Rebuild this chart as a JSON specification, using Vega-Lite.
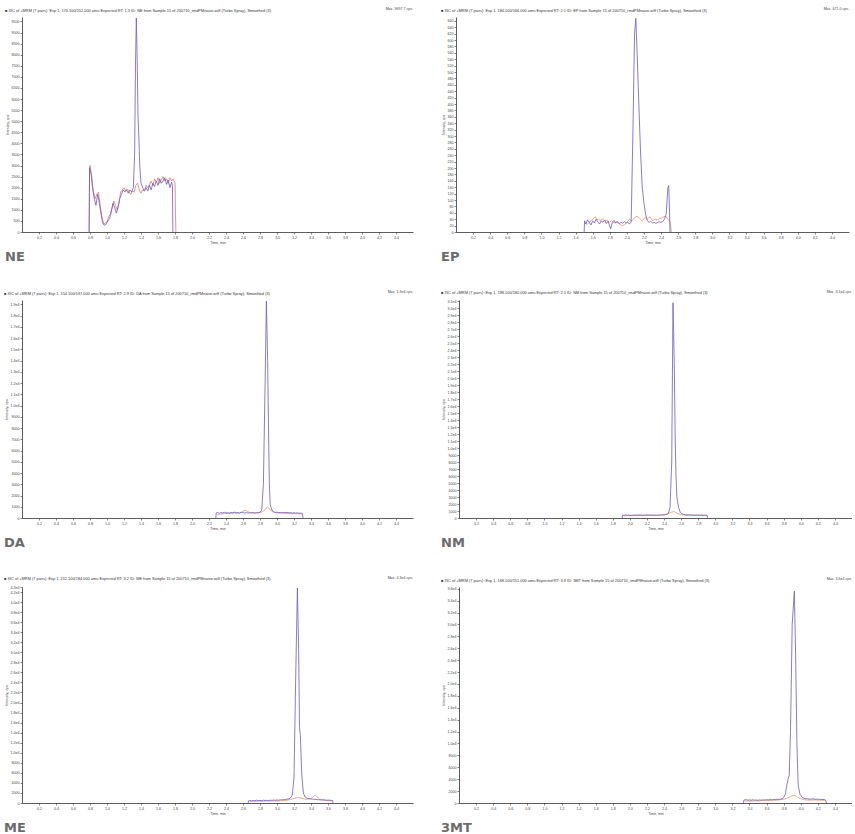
{
  "$schema": "https://vega.github.io/schema/vega-lite/v6.json",
  "padding": {"left": 4, "top": 7, "right": 0, "bottom": 0},
  "autosize": {"type": "pad"},
  "background": "white",
  "config": {
    "font": "Liberation Sans",
    "view": {"stroke": null},
    "axis": {"labelFontSize": 3.6, "titleFontSize": 3.6, "tickSize": 2, "labelPadding": 1, "titlePadding": 2, "grid": false, "domainColor": "#333", "tickColor": "#333", "labelColor": "#444", "titleColor": "#444", "domainWidth": 0.8, "tickWidth": 0.6, "titleFontWeight": "normal", "labelOverlap": false, "labelFlush": false, "labelSeparation": 0},
    "title": {"font": "Liberation Sans"},
    "line": {"strokeWidth": 0.8, "clip": true},
    "concat": {"spacing": 28}
  },
  "datasets": {
    "ne_a": [{"t":0.79,"v":0},{"t":0.795,"v":2900},{"t":0.81,"v":2700},{"t":0.83,"v":2000},{"t":0.85,"v":1500},{"t":0.87,"v":1200},{"t":0.89,"v":1700},{"t":0.91,"v":1300},{"t":0.93,"v":800},{"t":0.95,"v":400},{"t":0.97,"v":300},{"t":0.99,"v":350},{"t":1.01,"v":500},{"t":1.03,"v":600},{"t":1.05,"v":900},{"t":1.07,"v":1300},{"t":1.09,"v":1100},{"t":1.11,"v":850},{"t":1.13,"v":1100},{"t":1.15,"v":1500},{"t":1.17,"v":1700},{"t":1.19,"v":1900},{"t":1.21,"v":1800},{"t":1.23,"v":1900},{"t":1.25,"v":1750},{"t":1.27,"v":1900},{"t":1.29,"v":1800},{"t":1.31,"v":2000},{"t":1.325,"v":3500},{"t":1.335,"v":7500},{"t":1.345,"v":9650},{"t":1.355,"v":7800},{"t":1.365,"v":5200},{"t":1.375,"v":4300},{"t":1.385,"v":3000},{"t":1.4,"v":2200},{"t":1.42,"v":2000},{"t":1.44,"v":1850},{"t":1.46,"v":2000},{"t":1.48,"v":1850},{"t":1.5,"v":2100},{"t":1.52,"v":1900},{"t":1.54,"v":2200},{"t":1.56,"v":2050},{"t":1.58,"v":2300},{"t":1.6,"v":2100},{"t":1.62,"v":2400},{"t":1.64,"v":2200},{"t":1.66,"v":2300},{"t":1.68,"v":2450},{"t":1.7,"v":2150},{"t":1.72,"v":2350},{"t":1.74,"v":2000},{"t":1.76,"v":2250},{"t":1.77,"v":2100},{"t":1.775,"v":0}],
    "ne_b": [{"t":0.79,"v":0},{"t":0.795,"v":2800},{"t":0.8,"v":3000},{"t":0.82,"v":2500},{"t":0.84,"v":1800},{"t":0.86,"v":1500},{"t":0.88,"v":1700},{"t":0.9,"v":1800},{"t":0.92,"v":1200},{"t":0.94,"v":700},{"t":0.96,"v":350},{"t":0.98,"v":400},{"t":1.0,"v":450},{"t":1.02,"v":700},{"t":1.04,"v":800},{"t":1.06,"v":1100},{"t":1.08,"v":1400},{"t":1.1,"v":1200},{"t":1.12,"v":1000},{"t":1.14,"v":1300},{"t":1.16,"v":1800},{"t":1.18,"v":1900},{"t":1.2,"v":2000},{"t":1.22,"v":1850},{"t":1.24,"v":1950},{"t":1.26,"v":1800},{"t":1.28,"v":1700},{"t":1.3,"v":1850},{"t":1.32,"v":1800},{"t":1.34,"v":2100},{"t":1.36,"v":2200},{"t":1.38,"v":1900},{"t":1.4,"v":1750},{"t":1.42,"v":1900},{"t":1.44,"v":1850},{"t":1.46,"v":2100},{"t":1.48,"v":2000},{"t":1.5,"v":2150},{"t":1.52,"v":2300},{"t":1.54,"v":2100},{"t":1.56,"v":2400},{"t":1.58,"v":2250},{"t":1.6,"v":2450},{"t":1.62,"v":2200},{"t":1.64,"v":2350},{"t":1.66,"v":2500},{"t":1.68,"v":2300},{"t":1.7,"v":2400},{"t":1.72,"v":2200},{"t":1.74,"v":2450},{"t":1.76,"v":2300},{"t":1.78,"v":2400},{"t":1.8,"v":2200},{"t":1.81,"v":0}],
    "ep_a": [{"t":1.5,"v":0},{"t":1.505,"v":35},{"t":1.52,"v":25},{"t":1.54,"v":38},{"t":1.56,"v":30},{"t":1.58,"v":22},{"t":1.6,"v":35},{"t":1.62,"v":28},{"t":1.64,"v":40},{"t":1.66,"v":32},{"t":1.68,"v":25},{"t":1.7,"v":35},{"t":1.72,"v":30},{"t":1.74,"v":38},{"t":1.76,"v":26},{"t":1.78,"v":34},{"t":1.81,"v":10},{"t":1.83,"v":30},{"t":1.85,"v":36},{"t":1.87,"v":28},{"t":1.89,"v":33},{"t":1.91,"v":26},{"t":1.93,"v":30},{"t":1.95,"v":27},{"t":1.97,"v":32},{"t":1.99,"v":28},{"t":2.01,"v":30},{"t":2.03,"v":26},{"t":2.05,"v":30},{"t":2.07,"v":300},{"t":2.09,"v":620},{"t":2.105,"v":668},{"t":2.12,"v":560},{"t":2.14,"v":400},{"t":2.16,"v":250},{"t":2.18,"v":140},{"t":2.2,"v":90},{"t":2.22,"v":55},{"t":2.24,"v":35},{"t":2.26,"v":30},{"t":2.28,"v":33},{"t":2.3,"v":28},{"t":2.32,"v":30},{"t":2.34,"v":27},{"t":2.36,"v":30},{"t":2.38,"v":32},{"t":2.4,"v":30},{"t":2.42,"v":33},{"t":2.44,"v":40},{"t":2.46,"v":55},{"t":2.48,"v":140},{"t":2.49,"v":145},{"t":2.5,"v":60},{"t":2.505,"v":0}],
    "ep_b": [{"t":1.52,"v":20},{"t":1.55,"v":28},{"t":1.58,"v":35},{"t":1.61,"v":42},{"t":1.63,"v":48},{"t":1.65,"v":38},{"t":1.67,"v":40},{"t":1.69,"v":35},{"t":1.71,"v":42},{"t":1.73,"v":37},{"t":1.75,"v":33},{"t":1.77,"v":38},{"t":1.79,"v":30},{"t":1.82,"v":35},{"t":1.85,"v":28},{"t":1.88,"v":32},{"t":1.91,"v":25},{"t":1.94,"v":20},{"t":1.97,"v":22},{"t":2.0,"v":30},{"t":2.03,"v":40},{"t":2.06,"v":35},{"t":2.09,"v":45},{"t":2.12,"v":50},{"t":2.15,"v":42},{"t":2.18,"v":35},{"t":2.21,"v":45},{"t":2.24,"v":40},{"t":2.27,"v":48},{"t":2.3,"v":35},{"t":2.33,"v":40},{"t":2.36,"v":38},{"t":2.39,"v":42},{"t":2.42,"v":45},{"t":2.45,"v":50},{"t":2.48,"v":40},{"t":2.51,"v":30},{"t":2.52,"v":0}],
    "da_a": [{"t":2.28,"v":0},{"t":2.285,"v":450},{"t":2.3,"v":500},{"t":2.32,"v":420},{"t":2.34,"v":480},{"t":2.36,"v":450},{"t":2.38,"v":510},{"t":2.4,"v":440},{"t":2.42,"v":470},{"t":2.44,"v":430},{"t":2.46,"v":500},{"t":2.48,"v":460},{"t":2.5,"v":520},{"t":2.52,"v":450},{"t":2.54,"v":480},{"t":2.56,"v":430},{"t":2.58,"v":500},{"t":2.6,"v":470},{"t":2.62,"v":440},{"t":2.64,"v":490},{"t":2.66,"v":430},{"t":2.68,"v":470},{"t":2.7,"v":450},{"t":2.72,"v":500},{"t":2.74,"v":440},{"t":2.76,"v":480},{"t":2.78,"v":460},{"t":2.8,"v":520},{"t":2.82,"v":700},{"t":2.84,"v":3000},{"t":2.86,"v":12000},{"t":2.875,"v":19300},{"t":2.89,"v":14000},{"t":2.9,"v":8000},{"t":2.91,"v":3000},{"t":2.92,"v":1200},{"t":2.94,"v":700},{"t":2.96,"v":550},{"t":2.98,"v":500},{"t":3.0,"v":520},{"t":3.02,"v":480},{"t":3.04,"v":500},{"t":3.06,"v":460},{"t":3.08,"v":490},{"t":3.1,"v":470},{"t":3.12,"v":500},{"t":3.14,"v":450},{"t":3.16,"v":480},{"t":3.18,"v":440},{"t":3.2,"v":470},{"t":3.22,"v":430},{"t":3.24,"v":460},{"t":3.26,"v":420},{"t":3.28,"v":440},{"t":3.3,"v":400},{"t":3.305,"v":0}],
    "da_b": [{"t":2.3,"v":300},{"t":2.34,"v":350},{"t":2.38,"v":380},{"t":2.42,"v":420},{"t":2.46,"v":400},{"t":2.5,"v":450},{"t":2.54,"v":420},{"t":2.58,"v":500},{"t":2.61,"v":650},{"t":2.63,"v":700},{"t":2.65,"v":600},{"t":2.68,"v":480},{"t":2.72,"v":420},{"t":2.76,"v":450},{"t":2.8,"v":480},{"t":2.84,"v":600},{"t":2.87,"v":850},{"t":2.89,"v":950},{"t":2.91,"v":800},{"t":2.94,"v":600},{"t":2.98,"v":480},{"t":3.02,"v":420},{"t":3.06,"v":450},{"t":3.1,"v":400},{"t":3.14,"v":430},{"t":3.18,"v":380},{"t":3.22,"v":400},{"t":3.26,"v":370},{"t":3.29,"v":350}],
    "nm_a": [{"t":1.91,"v":0},{"t":1.915,"v":420},{"t":1.93,"v":380},{"t":1.95,"v":450},{"t":1.97,"v":400},{"t":1.99,"v":430},{"t":2.01,"v":380},{"t":2.03,"v":420},{"t":2.05,"v":390},{"t":2.07,"v":440},{"t":2.09,"v":400},{"t":2.11,"v":450},{"t":2.13,"v":410},{"t":2.15,"v":380},{"t":2.17,"v":430},{"t":2.19,"v":400},{"t":2.21,"v":420},{"t":2.23,"v":390},{"t":2.25,"v":440},{"t":2.27,"v":400},{"t":2.29,"v":430},{"t":2.31,"v":380},{"t":2.33,"v":420},{"t":2.35,"v":400},{"t":2.37,"v":450},{"t":2.39,"v":420},{"t":2.41,"v":460},{"t":2.43,"v":500},{"t":2.45,"v":650},{"t":2.47,"v":1500},{"t":2.49,"v":8000},{"t":2.505,"v":30800},{"t":2.52,"v":22000},{"t":2.53,"v":12000},{"t":2.54,"v":6000},{"t":2.55,"v":3000},{"t":2.57,"v":1500},{"t":2.59,"v":800},{"t":2.61,"v":600},{"t":2.63,"v":500},{"t":2.65,"v":470},{"t":2.67,"v":430},{"t":2.69,"v":460},{"t":2.71,"v":420},{"t":2.73,"v":440},{"t":2.75,"v":400},{"t":2.77,"v":430},{"t":2.79,"v":410},{"t":2.81,"v":440},{"t":2.83,"v":400},{"t":2.85,"v":420},{"t":2.87,"v":390},{"t":2.89,"v":410},{"t":2.905,"v":380},{"t":2.91,"v":0}],
    "nm_b": [{"t":1.93,"v":300},{"t":1.97,"v":350},{"t":2.01,"v":320},{"t":2.05,"v":380},{"t":2.09,"v":340},{"t":2.13,"v":400},{"t":2.17,"v":360},{"t":2.21,"v":420},{"t":2.25,"v":380},{"t":2.29,"v":350},{"t":2.33,"v":400},{"t":2.37,"v":450},{"t":2.41,"v":500},{"t":2.45,"v":650},{"t":2.49,"v":850},{"t":2.52,"v":900},{"t":2.55,"v":700},{"t":2.59,"v":500},{"t":2.63,"v":420},{"t":2.67,"v":380},{"t":2.71,"v":400},{"t":2.75,"v":360},{"t":2.79,"v":380},{"t":2.83,"v":340},{"t":2.87,"v":360},{"t":2.9,"v":330}],
    "me_a": [{"t":2.66,"v":0},{"t":2.665,"v":450},{"t":2.68,"v":500},{"t":2.7,"v":420},{"t":2.72,"v":520},{"t":2.74,"v":460},{"t":2.76,"v":540},{"t":2.78,"v":480},{"t":2.8,"v":520},{"t":2.82,"v":450},{"t":2.84,"v":560},{"t":2.86,"v":500},{"t":2.88,"v":540},{"t":2.9,"v":480},{"t":2.92,"v":560},{"t":2.94,"v":520},{"t":2.96,"v":580},{"t":2.98,"v":540},{"t":3.0,"v":600},{"t":3.02,"v":560},{"t":3.04,"v":640},{"t":3.06,"v":620},{"t":3.08,"v":680},{"t":3.1,"v":700},{"t":3.13,"v":800},{"t":3.16,"v":1000},{"t":3.18,"v":1600},{"t":3.2,"v":5000},{"t":3.22,"v":25000},{"t":3.24,"v":42800},{"t":3.255,"v":30000},{"t":3.265,"v":15000},{"t":3.275,"v":13400},{"t":3.29,"v":6000},{"t":3.31,"v":2000},{"t":3.33,"v":1200},{"t":3.36,"v":900},{"t":3.4,"v":800},{"t":3.43,"v":750},{"t":3.46,"v":700},{"t":3.49,"v":650},{"t":3.52,"v":600},{"t":3.55,"v":620},{"t":3.58,"v":560},{"t":3.61,"v":580},{"t":3.64,"v":520},{"t":3.655,"v":500},{"t":3.66,"v":0}],
    "me_b": [{"t":2.68,"v":300},{"t":2.72,"v":350},{"t":2.76,"v":320},{"t":2.8,"v":380},{"t":2.84,"v":340},{"t":2.88,"v":400},{"t":2.92,"v":360},{"t":2.96,"v":420},{"t":3.0,"v":400},{"t":3.04,"v":450},{"t":3.08,"v":480},{"t":3.12,"v":550},{"t":3.16,"v":700},{"t":3.2,"v":900},{"t":3.24,"v":1100},{"t":3.28,"v":1000},{"t":3.32,"v":800},{"t":3.36,"v":750},{"t":3.4,"v":900},{"t":3.43,"v":1300},{"t":3.45,"v":1600},{"t":3.47,"v":1300},{"t":3.5,"v":800},{"t":3.54,"v":600},{"t":3.58,"v":500},{"t":3.62,"v":450},{"t":3.65,"v":400}],
    "mt_a": [{"t":3.33,"v":0},{"t":3.335,"v":500},{"t":3.36,"v":550},{"t":3.38,"v":480},{"t":3.4,"v":520},{"t":3.42,"v":460},{"t":3.44,"v":540},{"t":3.46,"v":480},{"t":3.48,"v":500},{"t":3.5,"v":440},{"t":3.52,"v":520},{"t":3.54,"v":470},{"t":3.56,"v":540},{"t":3.58,"v":500},{"t":3.6,"v":560},{"t":3.62,"v":520},{"t":3.64,"v":580},{"t":3.66,"v":540},{"t":3.68,"v":600},{"t":3.7,"v":560},{"t":3.72,"v":620},{"t":3.74,"v":600},{"t":3.76,"v":650},{"t":3.78,"v":700},{"t":3.8,"v":900},{"t":3.82,"v":1500},{"t":3.84,"v":3200},{"t":3.855,"v":4200},{"t":3.865,"v":4600},{"t":3.88,"v":12000},{"t":3.9,"v":30000},{"t":3.925,"v":35600},{"t":3.94,"v":25000},{"t":3.955,"v":10000},{"t":3.97,"v":3000},{"t":3.99,"v":1500},{"t":4.02,"v":900},{"t":4.05,"v":750},{"t":4.08,"v":700},{"t":4.11,"v":650},{"t":4.14,"v":700},{"t":4.17,"v":620},{"t":4.2,"v":660},{"t":4.23,"v":580},{"t":4.26,"v":600},{"t":4.29,"v":520},{"t":4.3,"v":0}],
    "mt_b": [{"t":3.35,"v":300},{"t":3.39,"v":350},{"t":3.43,"v":320},{"t":3.47,"v":380},{"t":3.51,"v":340},{"t":3.55,"v":400},{"t":3.59,"v":380},{"t":3.63,"v":420},{"t":3.67,"v":450},{"t":3.71,"v":480},{"t":3.75,"v":520},{"t":3.79,"v":600},{"t":3.83,"v":750},{"t":3.87,"v":1000},{"t":3.9,"v":1200},{"t":3.93,"v":1300},{"t":3.96,"v":1000},{"t":4.0,"v":700},{"t":4.04,"v":550},{"t":4.08,"v":500},{"t":4.12,"v":480},{"t":4.16,"v":520},{"t":4.2,"v":460},{"t":4.24,"v":480},{"t":4.28,"v":440}]
  },
  "spacing": 24,
  "vconcat": [
    {"hconcat": [
      {"title": {"text": "NE", "orient": "bottom", "anchor": "start", "fontSize": 13, "fontWeight": "bold", "font": "DejaVu Sans", "color": "#6b6b6b", "offset": 7},
       "vconcat": [{"title": {"text": "Max. 9697.7 cps.", "anchor": "end", "fontSize": 3.6, "fontWeight": "normal", "color": "#444", "dy": 6},
        "vconcat": [{"title": {"text": "■ XIC of +MRM (7 pairs): Exp 1, 170.100/152.000 amu Expected RT: 1.3 ID: NE from Sample 15 of 200710_rmdPMnaive.wiff (Turbo Spray), Smoothed (3)", "anchor": "start", "fontSize": 3.9, "fontWeight": "normal", "color": "#333", "offset": 4},
          "width": 391, "height": 215,
          "layer": [
            {"data": {"name": "ne_b"}, "mark": {"type": "line", "color": "#e07868"}, "encoding": {"x": {"field": "t", "type": "quantitative", "scale": {"domain": [0, 4.6], "nice": false}, "axis": {"title": "Time, min", "tickCount": 200, "labelOverlap": false, "values": [0.2,0.4,0.6,0.8,1.0,1.2,1.4,1.6,1.8,2.0,2.2,2.4,2.6,2.8,3.0,3.2,3.4,3.6,3.8,4.0,4.2,4.4], "format": ".1f"}}, "y": {"field": "v", "type": "quantitative", "scale": {"domain": [0, 9700], "nice": false}, "axis": {"title": "Intensity, cps", "tickCount": 200, "labelOverlap": false, "values": [0,500,1000,1500,2000,2500,3000,3500,4000,4500,5000,5500,6000,6500,7000,7500,8000,8500,9000,9500], "format": "d"}}}},
            {"data": {"name": "ne_a"}, "mark": {"type": "line", "color": "#6a5cc0"}, "encoding": {"x": {"field": "t", "type": "quantitative"}, "y": {"field": "v", "type": "quantitative"}}},
            {"mark": {"type": "rule", "color": "#9c9cb4", "strokeWidth": 0.9}, "encoding": {"x": {"datum": 1.78}}},
            {"mark": {"type": "text", "fontSize": 3.6, "color": "#444", "baseline": "bottom", "dy": -1}, "encoding": {"x": {"datum": 1.345}, "y": {"datum": 9700}, "text": {"value": "1.34"}}},
            {"mark": {"type": "point", "shape": "triangle-right", "size": 6, "filled": true, "color": "#111", "opacity": 1}, "encoding": {"x": {"datum": 0}, "y": {"datum": 500}}}
          ]}]}]},
      {"title": {"text": "EP", "orient": "bottom", "anchor": "start", "fontSize": 13, "fontWeight": "bold", "font": "DejaVu Sans", "color": "#6b6b6b", "offset": 7},
       "vconcat": [{"title": {"text": "Max. 671.0 cps.", "anchor": "end", "fontSize": 3.6, "fontWeight": "normal", "color": "#444", "dy": 6},
        "vconcat": [{"title": {"text": "■ XIC of +MRM (7 pairs): Exp 1, 184.100/166.000 amu Expected RT: 2.1 ID: EP from Sample 15 of 200710_rmdPMnaive.wiff (Turbo Spray), Smoothed (3)", "anchor": "start", "fontSize": 3.9, "fontWeight": "normal", "color": "#333", "offset": 4},
          "width": 393, "height": 215,
          "layer": [
            {"data": {"name": "ep_b"}, "mark": {"type": "line", "color": "#e8956a"}, "encoding": {"x": {"field": "t", "type": "quantitative", "scale": {"domain": [0, 4.6], "nice": false}, "axis": {"title": "Time, min", "tickCount": 200, "labelOverlap": false, "values": [0.2,0.4,0.6,0.8,1.0,1.2,1.4,1.6,1.8,2.0,2.2,2.4,2.6,2.8,3.0,3.2,3.4,3.6,3.8,4.0,4.2,4.4], "format": ".1f"}}, "y": {"field": "v", "type": "quantitative", "scale": {"domain": [0, 672], "nice": false}, "axis": {"title": "Intensity, cps", "tickCount": 200, "labelOverlap": false, "values": [0,20,40,60,80,100,120,140,160,180,200,220,240,260,280,300,320,340,360,380,400,420,440,460,480,500,520,540,560,580,600,620,640,660], "format": "d"}}}},
            {"data": {"name": "ep_a"}, "mark": {"type": "line", "color": "#6a5cc0"}, "encoding": {"x": {"field": "t", "type": "quantitative"}, "y": {"field": "v", "type": "quantitative"}}},
            {"mark": {"type": "rule", "color": "#9c9cb4", "strokeWidth": 0.9}, "encoding": {"x": {"datum": 2.88}}},
            {"mark": {"type": "point", "shape": "triangle-right", "size": 6, "filled": true, "color": "#111", "opacity": 1}, "encoding": {"x": {"datum": 0}, "y": {"datum": 35}}}
          ]}]}]}
    ]},
    {"hconcat": [
      {"title": {"text": "DA", "orient": "bottom", "anchor": "start", "fontSize": 13, "fontWeight": "bold", "font": "DejaVu Sans", "color": "#6b6b6b", "offset": 7},
       "vconcat": [{"title": {"text": "Max. 1.9e4 cps.", "anchor": "end", "fontSize": 3.6, "fontWeight": "normal", "color": "#444", "dy": 6},
        "vconcat": [{"title": {"text": "■ XIC of +MRM (7 pairs): Exp 1, 154.100/137.000 amu Expected RT: 2.9 ID: DA from Sample 15 of 200710_rmdPMnaive.wiff (Turbo Spray), Smoothed (3)", "anchor": "start", "fontSize": 3.9, "fontWeight": "normal", "color": "#333", "offset": 4},
          "width": 391, "height": 218,
          "layer": [
            {"data": {"name": "da_b"}, "mark": {"type": "line", "color": "#e8956a"}, "encoding": {"x": {"field": "t", "type": "quantitative", "scale": {"domain": [0, 4.6], "nice": false}, "axis": {"title": "Time, min", "tickCount": 200, "labelOverlap": false, "values": [0.2,0.4,0.6,0.8,1.0,1.2,1.4,1.6,1.8,2.0,2.2,2.4,2.6,2.8,3.0,3.2,3.4,3.6,3.8,4.0,4.2,4.4], "format": ".1f"}}, "y": {"field": "v", "type": "quantitative", "scale": {"domain": [0, 19400], "nice": false}, "axis": {"title": "Intensity, cps", "tickCount": 200, "labelOverlap": false, "values": [0,1000,2000,3000,4000,5000,6000,7000,8000,9000,10000,11000,12000,13000,14000,15000,16000,17000,18000,19000], "labelExpr": "datum.value >= 10000 ? replace(format(datum.value, '.1e'), '+', '') : format(datum.value, 'd')"}}}},
            {"data": {"name": "da_a"}, "mark": {"type": "line", "color": "#6a5cc0"}, "encoding": {"x": {"field": "t", "type": "quantitative"}, "y": {"field": "v", "type": "quantitative"}}},
            {"mark": {"type": "rule", "color": "#9c9cb4", "strokeWidth": 0.9}, "encoding": {"x": {"datum": 3.45}}},
            {"mark": {"type": "point", "shape": "triangle-right", "size": 6, "filled": true, "color": "#111", "opacity": 1}, "encoding": {"x": {"datum": 0}, "y": {"datum": 1000}}}
          ]}]}]},
      {"title": {"text": "NM", "orient": "bottom", "anchor": "start", "fontSize": 13, "fontWeight": "bold", "font": "DejaVu Sans", "color": "#6b6b6b", "offset": 7},
       "vconcat": [{"title": {"text": "Max. 3.1e4 cps.", "anchor": "end", "fontSize": 3.6, "fontWeight": "normal", "color": "#444", "dy": 6},
        "vconcat": [{"title": {"text": "■ XIC of +MRM (7 pairs): Exp 1, 198.100/180.000 amu Expected RT: 2.5 ID: NM from Sample 15 of 200710_rmdPMnaive.wiff (Turbo Spray), Smoothed (3)", "anchor": "start", "fontSize": 3.9, "fontWeight": "normal", "color": "#333", "offset": 4},
          "width": 393, "height": 218,
          "layer": [
            {"data": {"name": "nm_b"}, "mark": {"type": "line", "color": "#e8956a"}, "encoding": {"x": {"field": "t", "type": "quantitative", "scale": {"domain": [0, 4.6], "nice": false}, "axis": {"title": "Time, min", "tickCount": 200, "labelOverlap": false, "values": [0.2,0.4,0.6,0.8,1.0,1.2,1.4,1.6,1.8,2.0,2.2,2.4,2.6,2.8,3.0,3.2,3.4,3.6,3.8,4.0,4.2,4.4], "format": ".1f"}}, "y": {"field": "v", "type": "quantitative", "scale": {"domain": [0, 31200], "nice": false}, "axis": {"title": "Intensity, cps", "tickCount": 200, "labelOverlap": false, "values": [0,1000,2000,3000,4000,5000,6000,7000,8000,9000,10000,11000,12000,13000,14000,15000,16000,17000,18000,19000,20000,21000,22000,23000,24000,25000,26000,27000,28000,29000,30000,31000], "labelExpr": "datum.value >= 10000 ? replace(format(datum.value, '.1e'), '+', '') : format(datum.value, 'd')"}}}},
            {"data": {"name": "nm_a"}, "mark": {"type": "line", "color": "#6a5cc0"}, "encoding": {"x": {"field": "t", "type": "quantitative"}, "y": {"field": "v", "type": "quantitative"}}},
            {"mark": {"type": "rule", "color": "#9c9cb4", "strokeWidth": 0.9}, "encoding": {"x": {"datum": 3.66}}},
            {"mark": {"type": "text", "fontSize": 3.6, "color": "#444", "align": "left", "baseline": "top", "dx": 1, "dy": 1}, "encoding": {"x": {"datum": 2.52}, "y": {"datum": 31000}, "text": {"value": "2.52"}}},
            {"mark": {"type": "point", "shape": "triangle-right", "size": 6, "filled": true, "color": "#111", "opacity": 1}, "encoding": {"x": {"datum": 0}, "y": {"datum": 1600}}}
          ]}]}]}
    ]},
    {"hconcat": [
      {"title": {"text": "ME", "orient": "bottom", "anchor": "start", "fontSize": 13, "fontWeight": "bold", "font": "DejaVu Sans", "color": "#6b6b6b", "offset": 7},
       "vconcat": [{"title": {"text": "Max. 4.3e4 cps.", "anchor": "end", "fontSize": 3.6, "fontWeight": "normal", "color": "#444", "dy": 6},
        "vconcat": [{"title": {"text": "■ XIC of +MRM (7 pairs): Exp 1, 212.100/194.000 amu Expected RT: 3.2 ID: ME from Sample 15 of 200710_rmdPMnaive.wiff (Turbo Spray), Smoothed (3)", "anchor": "start", "fontSize": 3.9, "fontWeight": "normal", "color": "#333", "offset": 4},
          "width": 391, "height": 216,
          "layer": [
            {"data": {"name": "me_b"}, "mark": {"type": "line", "color": "#e8956a"}, "encoding": {"x": {"field": "t", "type": "quantitative", "scale": {"domain": [0, 4.6], "nice": false}, "axis": {"title": "Time, min", "tickCount": 200, "labelOverlap": false, "values": [0.2,0.4,0.6,0.8,1.0,1.2,1.4,1.6,1.8,2.0,2.2,2.4,2.6,2.8,3.0,3.2,3.4,3.6,3.8,4.0,4.2,4.4], "format": ".1f"}}, "y": {"field": "v", "type": "quantitative", "scale": {"domain": [0, 43000], "nice": false}, "axis": {"title": "Intensity, cps", "tickCount": 200, "labelOverlap": false, "values": [0,2000,4000,6000,8000,10000,12000,14000,16000,18000,20000,22000,24000,26000,28000,30000,32000,34000,36000,38000,40000,42000,43000], "labelExpr": "datum.value >= 10000 ? replace(format(datum.value, '.1e'), '+', '') : format(datum.value, 'd')"}}}},
            {"data": {"name": "me_a"}, "mark": {"type": "line", "color": "#6a5cc0"}, "encoding": {"x": {"field": "t", "type": "quantitative"}, "y": {"field": "v", "type": "quantitative"}}},
            {"mark": {"type": "rule", "color": "#9c9cb4", "strokeWidth": 0.9}, "encoding": {"x": {"datum": 3.95}}},
            {"mark": {"type": "point", "shape": "triangle-right", "size": 6, "filled": true, "color": "#111", "opacity": 1}, "encoding": {"x": {"datum": 0}, "y": {"datum": 2000}}}
          ]}]}]},
      {"title": {"text": "3MT", "orient": "bottom", "anchor": "start", "fontSize": 13, "fontWeight": "bold", "font": "DejaVu Sans", "color": "#6b6b6b", "offset": 7},
       "vconcat": [{"title": {"text": "Max. 3.6e4 cps.", "anchor": "end", "fontSize": 3.6, "fontWeight": "normal", "color": "#444", "dy": 6},
        "vconcat": [{"title": {"text": "■ XIC of +MRM (7 pairs): Exp 1, 168.100/151.000 amu Expected RT: 3.9 ID: 3MT from Sample 15 of 200710_rmdPMnaive.wiff (Turbo Spray), Smoothed (3)", "anchor": "start", "fontSize": 3.9, "fontWeight": "normal", "color": "#333", "offset": 4},
          "width": 393, "height": 216,
          "layer": [
            {"data": {"name": "mt_b"}, "mark": {"type": "line", "color": "#e8956a"}, "encoding": {"x": {"field": "t", "type": "quantitative", "scale": {"domain": [0, 4.6], "nice": false}, "axis": {"title": "Time, min", "tickCount": 200, "labelOverlap": false, "values": [0.2,0.4,0.6,0.8,1.0,1.2,1.4,1.6,1.8,2.0,2.2,2.4,2.6,2.8,3.0,3.2,3.4,3.6,3.8,4.0,4.2,4.4], "format": ".1f"}}, "y": {"field": "v", "type": "quantitative", "scale": {"domain": [0, 36300], "nice": false}, "axis": {"title": "Intensity, cps", "tickCount": 200, "labelOverlap": false, "values": [0,2000,4000,6000,8000,10000,12000,14000,16000,18000,20000,22000,24000,26000,28000,30000,32000,34000,36000], "labelExpr": "datum.value >= 10000 ? replace(format(datum.value, '.1e'), '+', '') : format(datum.value, 'd')"}}}},
            {"data": {"name": "mt_a"}, "mark": {"type": "line", "color": "#6a5cc0"}, "encoding": {"x": {"field": "t", "type": "quantitative"}, "y": {"field": "v", "type": "quantitative"}}},
            {"mark": {"type": "text", "fontSize": 3.6, "color": "#444", "baseline": "bottom", "dy": -1}, "encoding": {"x": {"datum": 3.925}, "y": {"datum": 35800}, "text": {"value": "3.93"}}},
            {"mark": {"type": "point", "shape": "triangle-right", "size": 6, "filled": true, "color": "#111", "opacity": 1}, "encoding": {"x": {"datum": 0}, "y": {"datum": 2000}}}
          ]}]}]}
    ]}
  ]
}
